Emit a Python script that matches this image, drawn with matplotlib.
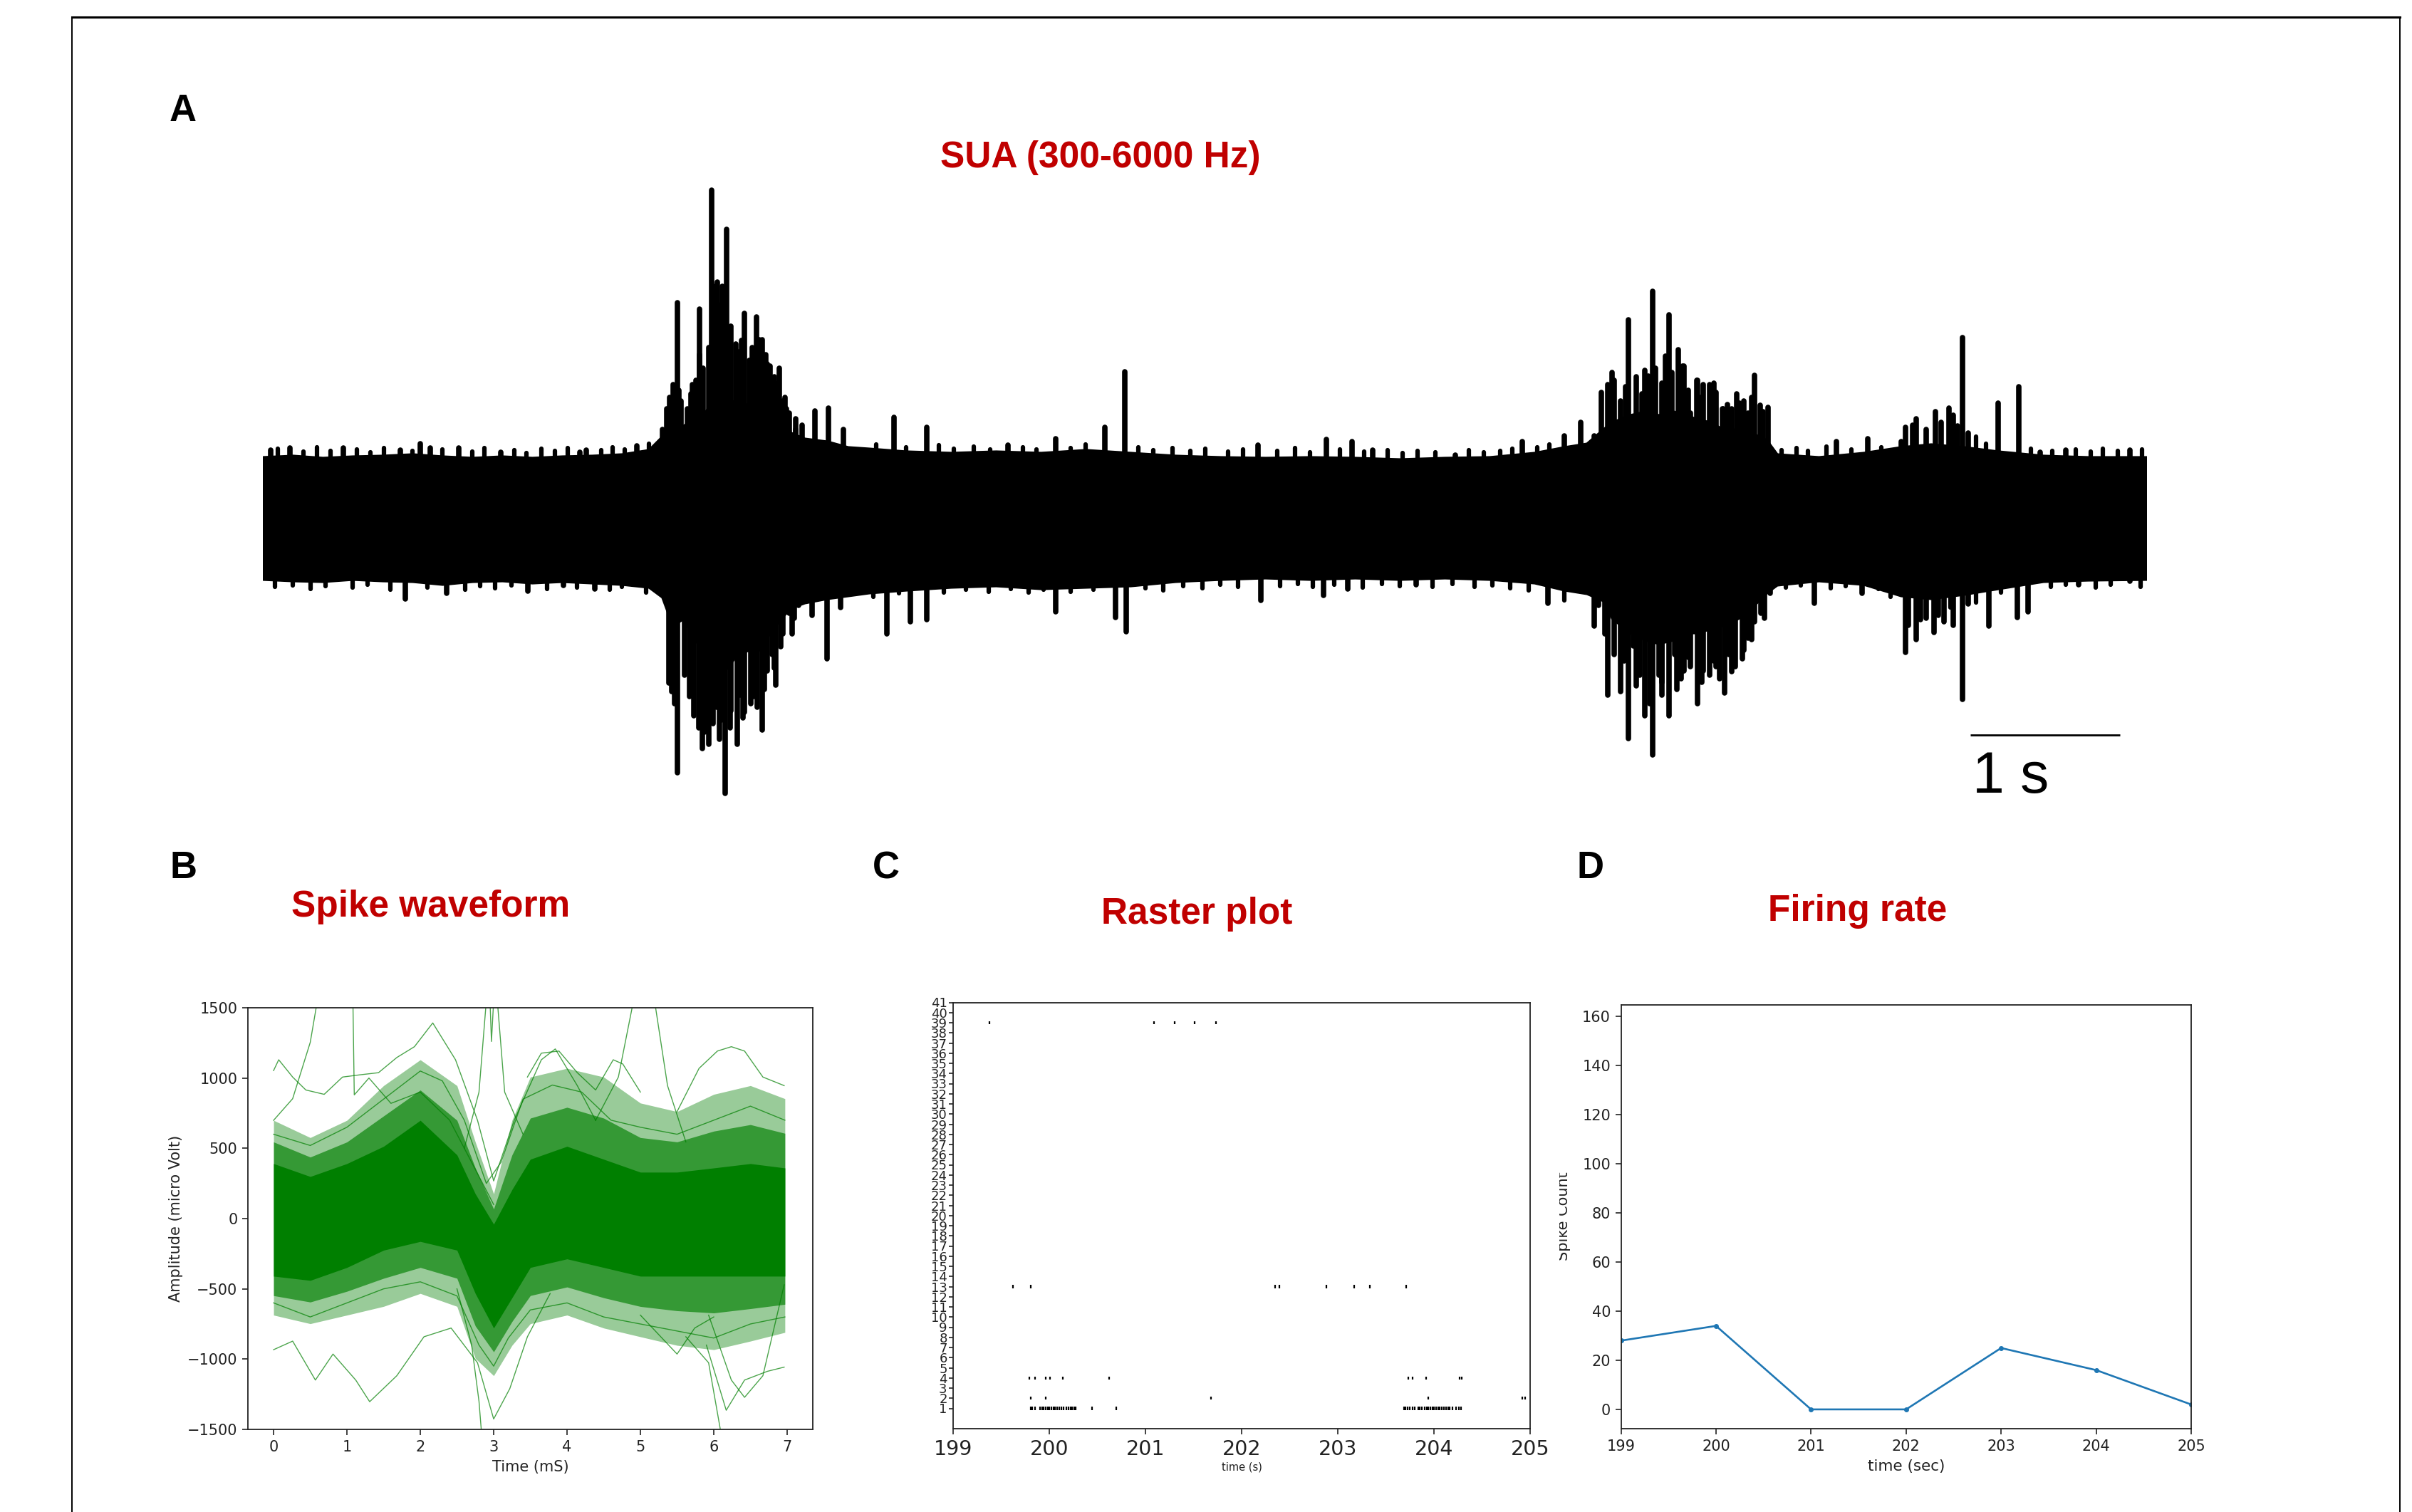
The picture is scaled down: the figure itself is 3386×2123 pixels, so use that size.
import matplotlib
matplotlib.use('Agg')
import matplotlib.pyplot as plt
from matplotlib.lines import Line2D
from matplotlib.transforms import Bbox, TransformedBbox

W, H = 3387, 2123
RED = '#C00000'

# ---------------- A: SUA trace (time in s, amplitude in uV)
band_t = [0.0, 0.2, 0.4, 0.6, 0.8, 1.0, 1.2, 1.4, 1.6, 1.8, 2.0, 2.2, 2.4, 2.58, 2.67, 2.74, 2.81,
          2.89, 2.96, 3.03, 3.10, 3.17, 3.24, 3.31, 3.39, 3.46, 3.53, 3.62, 3.77, 3.91, 4.05, 4.3,
          4.6, 4.9, 5.2, 5.5, 5.8, 6.1, 6.4, 6.7, 7.0, 7.3, 7.6, 7.9, 8.2, 8.5, 8.7, 8.85, 8.96,
          9.02, 9.14, 9.24, 9.33, 9.43, 9.50, 9.58, 9.67, 9.76, 9.86, 9.95, 10.05, 10.12, 10.4,
          10.7, 10.95, 11.15, 11.37, 11.6, 11.9, 12.2, 12.59]
band_hi = [86, 88, 85, 87, 88, 90, 87, 85, 87, 85, 87, 88, 90, 96, 115, 130, 130,
           140, 150, 170, 170, 160, 160, 150, 145, 130, 120, 112, 108, 100, 98, 94,
           92, 94, 92, 96, 92, 88, 86, 85, 86, 85, 83, 85, 86, 92, 100, 105, 125,
           135, 145, 150, 145, 150, 145, 140, 135, 125, 125, 120, 110, 90, 86,
           92, 100, 104, 100, 94, 88, 86, 86]
band_lo = [-85, -87, -88, -85, -87, -88, -92, -88, -87, -90, -88, -90, -92, -96, -110, -150, -140,
           -170, -190, -200, -210, -190, -185, -185, -160, -140, -125, -118, -112, -108, -104, -100,
           -96, -94, -98, -96, -94, -88, -85, -83, -85, -83, -85, -83, -85, -90, -100, -105, -115,
           -140, -160, -170, -175, -170, -160, -160, -155, -150, -140, -125, -104, -93, -87,
           -92, -108, -112, -106, -98, -88, -86, -85]

# large single spikes
up_t = [0.05, 0.18, 0.54, 0.92, 1.05, 1.12, 1.31, 1.59, 2.12, 2.16, 2.50, 2.77, 2.92, 3.00, 3.04,
        3.10, 3.16, 3.22, 3.30, 3.34, 3.39, 3.45, 3.52, 3.69, 3.78, 3.88, 4.22, 4.44, 4.98, 5.30,
        5.63, 5.76, 6.65, 7.11, 7.28, 7.42, 7.97, 8.42, 8.70, 8.81, 8.90, 9.02, 9.13, 9.24, 9.29,
        9.40, 9.46, 9.49, 9.59, 9.67, 9.76, 9.87, 9.97, 10.06, 10.52, 10.73, 10.95, 11.03, 11.27,
        11.36, 11.60, 11.74, 11.88, 12.05, 12.48]
up_amp = [96, 99, 99, 96, 105, 99, 99, 93, 93, 96, 102, 303, 294, 461, 332,
          406, 245, 288, 283, 251, 214, 211, 148, 151, 155, 125, 142, 128, 103, 112,
          128, 206, 103, 111, 108, 96, 89, 108, 116, 135, 116, 205, 279, 208, 319,
          286, 237, 214, 194, 188, 154, 162, 201, 156, 108, 112, 108, 131, 155,
          254, 162, 185, 93, 96, 96]
dn_t = [0.95, 1.23, 1.77, 2.01, 2.22, 2.48, 2.77, 2.94, 3.01, 3.09, 3.17, 3.22, 3.34, 3.43, 3.54,
        3.67, 3.77, 3.86, 4.17, 4.33, 4.44, 5.30, 5.70, 5.77, 6.67, 7.09, 7.25, 7.71, 8.59, 8.90,
        8.99, 9.13, 9.24, 9.29, 9.40, 9.50, 9.59, 9.67, 9.77, 9.89, 9.97, 10.37, 10.69, 10.98,
        11.08, 11.20, 11.36, 11.54, 11.73, 11.80, 12.14, 12.48]
dn_amp = [-113, -105, -102, -94, -99, -90, -357, -323, -288, -386, -317, -272, -297, -234, -162,
          -136, -197, -125, -162, -145, -142, -131, -139, -159, -115, -108, -99, -93, -119, -151,
          -248, -309, -277, -332, -277, -214, -260, -220, -245, -197, -145, -119, -105, -188,
          -142, -136, -254, -151, -139, -131, -93, -88]

# dense strokes inside the bursts
burst_up_t = [2.673, 2.699, 2.72, 2.741, 2.78, 2.797, 2.839, 2.86, 2.869, 2.894, 2.92, 2.945, 2.98,
              3.022, 3.06, 3.073, 3.124, 3.13, 3.183, 3.20, 3.251, 3.27, 3.277, 3.319, 3.36, 3.37,
              3.421, 3.43, 3.476, 3.49, 3.498, 3.56, 3.562, 3.605,
              8.948, 8.99, 9.033, 9.076, 9.11, 9.182, 9.22, 9.26, 9.31, 9.35, 9.374, 9.42, 9.5,
              9.53, 9.543, 9.586, 9.61, 9.628, 9.70, 9.714, 9.757, 9.79, 9.82, 9.85, 9.90, 9.927,
              9.95, 10.01, 10.03,
              10.98, 11.05, 11.12, 11.18, 11.22, 11.30, 11.33, 11.40]
burst_up_amp = [125, 154, 170, 188, 180, 165, 154, 175, 188, 194, 230, 211, 240,
                326, 300, 326, 245, 270, 234, 250, 222, 240, 228, 251, 230, 217,
                199, 190, 165, 170, 154, 140, 125, 131,
                177, 188, 194, 165, 185, 199, 175, 200, 211, 190, 228, 205, 214,
                180, 148, 194, 170, 188, 190, 177, 154, 160, 154, 175, 165, 148,
                170, 159, 150,
                128, 140, 125, 150, 135, 145, 130, 120]
burst_dn_t = [2.712, 2.733, 2.75, 2.818, 2.85, 2.882, 2.912, 2.95, 2.98, 3.0, 3.031, 3.05, 3.065,
              3.124, 3.13, 3.192, 3.21, 3.264, 3.28, 3.307, 3.35, 3.37, 3.404, 3.42, 3.46, 3.476,
              3.519, 3.55, 3.583,
              8.929, 8.971, 9.033, 9.076, 9.10, 9.161, 9.18, 9.204, 9.27, 9.331, 9.352, 9.35,
              9.437, 9.45, 9.48, 9.53, 9.543, 9.62, 9.628, 9.70, 9.714, 9.74, 9.799, 9.82, 9.842,
              9.90, 9.927, 9.95, 10.012, 10.04, 10.076,
              11.0, 11.05, 11.12, 11.17, 11.24, 11.30, 11.40]
burst_dn_amp = [-231, -243, -260, -220, -250, -277, -294, -300, -317, -280, -265, -310, -283,
                -294, -270, -248, -280, -260, -250, -265, -240, -214, -191, -210, -180, -162,
                -133, -140, -122,
                -122, -162, -191, -243, -200, -179, -235, -220, -260, -220, -248, -230,
                -191, -240, -225, -195, -208, -230, -214, -200, -208, -225, -191, -215, -208,
                -185, -168, -170, -133, -140, -105,
                -150, -170, -140, -160, -145, -150, -120]

# small strokes along the edges of the background band
minor_up_t = [0.10, 0.27, 0.36, 0.45, 0.63, 0.72, 0.81, 1.00, 1.20, 1.40, 1.48, 1.68, 1.76, 1.86,
              1.95, 2.04, 2.26, 2.34, 2.42, 2.58, 4.10, 4.30, 4.52, 4.62, 4.75, 4.86, 5.08, 5.17,
              5.40, 5.50, 5.85, 5.95, 6.08, 6.20, 6.30, 6.45, 6.55, 6.78, 6.90, 7.00, 7.20, 7.36,
              7.52, 7.62, 7.72, 7.84, 8.06, 8.16, 8.27, 8.35, 8.52, 8.60, 10.15, 10.25, 10.33,
              10.45, 10.62, 10.82, 11.12, 11.45, 11.52, 11.82, 11.96, 12.12, 12.22, 12.30, 12.40,
              12.56]
minor_up_amp = [98, 94, 100, 95, 97, 93, 99, 95, 97, 94, 99, 96, 92, 98,
                95, 99, 96, 100, 97, 105, 104, 100, 103, 98, 101, 97, 100, 97,
                99, 104, 100, 96, 99, 95, 98, 94, 97, 95, 99, 93, 97, 94,
                96, 92, 95, 93, 96, 93, 95, 98, 100, 104, 96, 99, 95,
                101, 97, 100, 125, 115, 105, 98, 95, 97, 94, 98, 95,
                97]
minor_dn_t = [0.08, 0.20, 0.32, 0.42, 0.60, 0.70, 0.85, 1.10, 1.35, 1.45, 1.55, 1.66, 1.90, 2.10,
              2.32, 2.40, 2.56, 4.08, 4.25, 4.55, 4.70, 4.85, 5.00, 5.12, 5.22, 5.40, 5.55, 5.90,
              6.02, 6.15, 6.28, 6.40, 6.52, 6.80, 6.92, 7.02, 7.16, 7.35, 7.48, 7.60, 7.82, 7.95,
              8.10, 8.22, 8.34, 8.46, 8.70, 10.18, 10.28, 10.48, 10.58, 10.80, 10.88, 11.28, 11.45,
              11.62, 11.95, 12.05, 12.25, 12.35, 12.55]
minor_dn_amp = [-96, -94, -99, -95, -97, -93, -100, -97, -100, -95, -98, -94, -99, -97,
                -100, -96, -104, -110, -105, -104, -100, -103, -99, -104, -100, -103, -100, -98,
                -101, -95, -98, -93, -96, -95, -92, -96, -93, -97, -92, -95, -96, -92,
                -96, -94, -98, -101, -115, -97, -94, -98, -95, -99, -110, -125, -118,
                -104, -96, -93, -97, -93, -96]

# ---------------- B: spike waveforms (ms, uV): dense core, fringe and stray traces
wf_t = [0, 0.5, 1, 1.5, 2, 2.5, 2.75, 3, 3.25, 3.5, 4, 4.5, 5, 5.5, 6, 6.5, 6.97]
core_hi = [391, 299, 391, 514, 699, 453, 176, -40, 206, 422, 514, 422, 330, 330, 360, 391, 360]
core_lo = [-410, -440, -348, -225, -163, -225, -533, -779, -564, -348, -287, -348, -410, -410,
           -410, -410, -410]
fringe_hi = [699, 576, 699, 946, 1130, 946, 545, 176, 699, 1007, 1069, 1007, 822, 761, 884, 946, 853]
fringe_lo = [-687, -748, -687, -625, -533, -625, -995, -1118, -902, -748, -687, -779, -841, -902,
             -933, -872, -810]
wf_outliers = [
    ([0, 0.07, 0.26, 0.44, 0.69, 0.94, 1.18, 1.43, 1.68, 1.92, 2.17, 2.48, 2.78, 3.0, 3.28, 3.65,
      3.84, 4.14, 4.39],
     [1053, 1130, 1007, 915, 884, 1007, 1023, 1038, 1146, 1223, 1392, 1130, 699, 268, 699, 1130,
      1207, 946, 699]),
    ([0, 0.26, 0.5, 0.6, 0.75, 0.95, 1.05, 1.08, 1.1, 1.3, 1.6, 2.0, 2.4, 2.8, 3.0],
     [699, 853, 1254, 1560, 1620, 1580, 1560, 1600, 880, 1000, 820, 900, 700, 300, 100]),
    ([2.6, 2.8, 2.9, 2.95, 2.97, 3.0, 3.05, 3.15, 3.4],
     [500, 900, 1550, 1550, 1260, 1550, 1550, 900, 600]),
    ([0, 0.26, 0.57, 0.81, 1.12, 1.31, 1.68, 2.05, 2.42, 2.78, 3.0, 3.22, 3.46, 3.77],
     [-933, -872, -1149, -964, -1149, -1303, -1118, -841, -779, -1026, -1426, -1210, -841, -533]),
    ([2.5, 2.7, 2.8, 2.84], [-500, -900, -1300, -1560]),
    ([5.62, 5.93, 6.11], [-841, -1026, -1560]),
    ([5.5, 5.8, 6.05, 6.24, 6.42, 6.67, 6.96], [761, 1069, 1192, 1223, 1192, 1007, 946]),
    ([4.39, 4.70, 4.91, 5.0, 5.19, 5.37, 5.62], [699, 1007, 1560, 1600, 1560, 946, 545]),
    ([3.46, 3.65, 3.89, 4.14, 4.39, 4.63, 4.76, 5.0], [1007, 1177, 1192, 1038, 915, 1130, 1100, 900]),
    ([5.93, 6.24, 6.42, 6.67, 6.96], [-687, -1149, -1272, -1118, -471]),
    ([5.0, 5.5, 5.74, 6.0], [-687, -964, -779, -700]),
    ([5.9, 6.17, 6.42, 6.73, 6.96], [-900, -1364, -1149, -1087, -1057]),
    ([0, 0.5, 1, 1.5, 2, 2.3, 2.6, 2.9, 3.1, 3.4, 3.8, 4.2, 4.6, 5, 5.5, 6, 6.5, 6.97],
     [600, 520, 650, 850, 1050, 980, 700, 250, 400, 850, 950, 900, 700, 650, 600, 700, 800, 700]),
    ([0, 0.5, 1, 1.5, 2, 2.5, 2.8, 3.0, 3.2, 3.5, 4, 4.5, 5, 5.5, 6, 6.5, 6.97],
     [-600, -700, -600, -500, -450, -550, -900, -1050, -850, -650, -600, -700, -750, -800, -850,
      -750, -700]),
]

# ---------------- C: raster (spike times in s per channel)
raster_rows = [1, 2, 4, 13, 39]
raster_ch1 = [199.805, 199.825, 199.849, 199.904, 199.923, 199.943, 199.963, 199.983, 200.002,
              200.022, 200.042, 200.062, 200.081, 200.101, 200.126, 200.151, 200.175, 200.200,
              200.220, 200.240, 200.259, 200.274, 200.447, 200.699,
              203.687, 203.706, 203.726, 203.746, 203.780, 203.800, 203.835, 203.854, 203.874,
              203.904, 203.923, 203.943, 203.963, 203.983, 204.002, 204.022, 204.042, 204.062,
              204.081, 204.101, 204.126, 204.146, 204.165, 204.190, 204.232, 204.257, 204.281]
raster_ch2 = [199.81, 199.96, 201.68, 203.94, 204.92, 204.95]
raster_ch4 = [199.79, 199.85, 199.96, 200.01, 200.14, 200.62, 203.73, 203.78, 203.92, 204.27, 204.29]
raster_ch13 = [199.62, 199.81, 202.35, 202.39, 202.88, 203.17, 203.33, 203.71]
raster_ch39 = [199.38, 201.09, 201.30, 201.51, 201.73]

# ---------------- D: firing rate
fr_t = [199, 200, 201, 202, 203, 204, 205]
fr_count = [28, 34, 0, 0, 25, 16, 2]


def add_ax(x0, y0, x1, y1):
    return fig.add_axes([x0 / W, 1 - y1 / H, (x1 - x0) / W, (y1 - y0) / H])


def ftext(x, y, s, **kw):
    return fig.text(x / W, 1 - y / H, s, **kw)


def style_ax(ax, size):
    for sp in ax.spines.values():
        sp.set_linewidth(1.3)
        sp.set_color('#222222')
    ax.tick_params(labelsize=size, length=5.5, width=1.2, pad=5, colors='#222222')


fig = plt.figure(figsize=(W / 100, H / 100), dpi=100)

# outer frame (bottom is cut off in the original)
fig.add_artist(Line2D([101 / W, 101 / W], [0, 1 - 24 / H], transform=fig.transFigure, color='k', lw=1.4))
fig.add_artist(Line2D([3369 / W, 3369 / W], [0, 1 - 24 / H], transform=fig.transFigure, color='k', lw=1.4))
fig.add_artist(Line2D([101 / W, 3369 / W], [1 - 24 / H, 1 - 24 / H], transform=fig.transFigure, color='k', lw=2.2))

# panel letters and titles
for lab, x, y in [('A', 257, 156), ('B', 257, 1219), ('C', 1244, 1219), ('D', 2233, 1219)]:
    ftext(x, y, lab, fontsize=38, fontweight='bold', family='Liberation Sans', ha='center', va='center')
for s, x, y in [('SUA (300-6000 Hz)', 1545, 222), ('Spike waveform', 605, 1273),
                ('Raster plot', 1680, 1284), ('Firing rate', 2608, 1279)]:
    ftext(x, y, s, fontsize=37, fontweight='bold', family='Liberation Sans', color=RED,
          ha='center', va='center')

# ---- A
axA = add_ax(369, 240, 3013, 1140)
axA.fill_between(band_t, band_lo, band_hi, facecolor='k', edgecolor='k', linewidth=3)
for tt, aa in [(up_t, up_amp), (dn_t, dn_amp), (burst_up_t, burst_up_amp),
               (burst_dn_t, burst_dn_amp)]:
    axA.vlines(tt, 0, aa, color='k', lw=5.5, capstyle='round')
for tt, aa in [(minor_up_t, minor_up_amp), (minor_dn_t, minor_dn_amp)]:
    axA.vlines(tt, 0, aa, color='k', lw=4.5, capstyle='round')
axA.plot([11.414, 12.414], [-304, -304], color='k', lw=2.0, solid_capstyle='butt')
axA.text(11.43, -326, '1 s', fontsize=58, family='Liberation Sans', ha='left', va='top')
axA.set_xlim(0, 12.59)
axA.set_ylim(-412, 488)
axA.axis('off')

# ---- B
axB = add_ax(348, 1415, 1141, 2007)
G = '#007f00'
axB.fill_between(wf_t, fringe_lo, fringe_hi, color=G, alpha=0.4, lw=0)
mid_hi = [(a + b) / 2 for a, b in zip(core_hi, fringe_hi)]
mid_lo = [(a + b) / 2 for a, b in zip(core_lo, fringe_lo)]
axB.fill_between(wf_t, mid_lo, mid_hi, color=G, alpha=0.65, lw=0)
axB.fill_between(wf_t, core_lo, core_hi, color=G, lw=0)
for tt, vv in wf_outliers:
    axB.plot(tt, vv, color=G, lw=1.0, alpha=0.7)
axB.set_xlim(-0.35, 7.35)
axB.set_ylim(-1500, 1500)
axB.set_xticks(range(0, 8))
axB.set_yticks(range(-1500, 1501, 500))
style_ax(axB, 15)
axB.set_xlabel('Time (mS)', fontsize=15, color='#222222', labelpad=6)
axB.set_ylabel('Amplitude (micro Volt)', fontsize=15, color='#222222', labelpad=4)

# ---- C
axC = add_ax(1338, 1407.5, 2148, 2006)
axC.eventplot([raster_ch1, raster_ch2, raster_ch4, raster_ch13, raster_ch39],
              lineoffsets=raster_rows, linelengths=0.3, colors='k', linewidths=1.6)
axC.set_xlim(199, 205)
axC.set_ylim(-1, 41)
axC.set_yticks(range(1, 42))
axC.set_xticks(range(199, 206))
style_ax(axC, 13)
axC.tick_params(axis='y', pad=2, length=4)
axC.tick_params(axis='x', labelsize=20.5, length=6)
axC.set_xlabel('time (s)', fontsize=10.5, color='#222222', labelpad=2)

# ---- D
axD = add_ax(2275.6, 1410.5, 3076, 2006)
axD.plot(fr_t, fr_count, color='#1f77b4', lw=1.9, marker='.', ms=8)
axD.set_xlim(199, 205)
axD.set_ylim(-7.85, 164.85)
axD.set_yticks(range(0, 161, 20))
axD.set_xticks(range(199, 206))
style_ax(axD, 15)
axD.set_xlabel('time (sec)', fontsize=15.5, color='#222222', labelpad=6)
yl = ftext(2205, 1708, 'Spike Count', fontsize=15, rotation=90, ha='right', va='center',
           color='#222222')
yl.set_clip_box(TransformedBbox(Bbox.from_extents(2189.5 / W, 0, 1, 1), fig.transFigure))
yl.set_clip_on(True)

fig.savefig('out.png', dpi=100, facecolor='white')
